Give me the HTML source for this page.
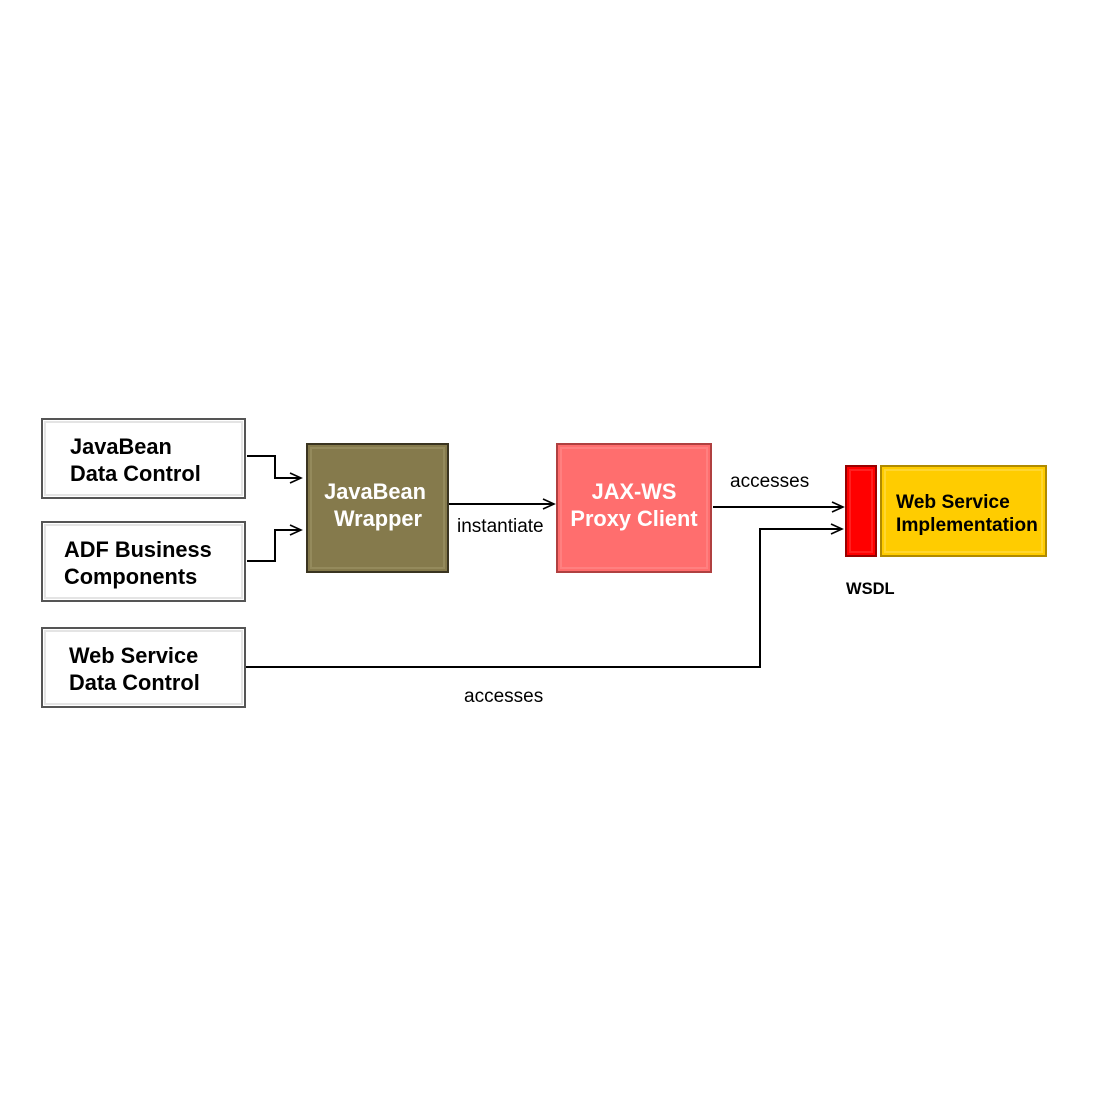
<!DOCTYPE html>
<html><head><meta charset="utf-8"><style>
html,body{margin:0;padding:0;background:#fff;width:1098px;height:1098px;overflow:hidden}
svg{display:block}
text{font-family:"Liberation Sans",Arial,sans-serif}
</style></head><body>
<svg width="1098" height="1098" viewBox="0 0 1098 1098" xmlns="http://www.w3.org/2000/svg">
<defs>
<marker id="a" markerWidth="14" markerHeight="12" refX="12" refY="6" orient="auto" markerUnits="userSpaceOnUse">
<path d="M1,1 L12,6 L1,11" fill="none" stroke="#000" stroke-width="1.6"/>
</marker>
</defs>
<g fill="#fff" stroke="#555" stroke-width="2">
<rect x="42" y="419" width="203" height="79"/>
<rect x="42" y="522" width="203" height="79"/>
<rect x="42" y="628" width="203" height="79"/>
</g>
<g fill="none" stroke="#e4e4e4" stroke-width="2">
<rect x="45" y="422" width="197" height="73"/>
<rect x="45" y="525" width="197" height="73"/>
<rect x="45" y="631" width="197" height="73"/>
</g>
<rect x="307" y="444" width="141" height="128" fill="#857A4C" stroke="#3a3420" stroke-width="2"/>
<rect x="311" y="448" width="133" height="120" fill="none" stroke="#948a5c" stroke-width="2"/>
<rect x="557" y="444" width="154" height="128" fill="#FF6E6E" stroke="#b04040" stroke-width="2"/>
<rect x="561" y="448" width="146" height="120" fill="none" stroke="#ff8080" stroke-width="2"/>
<rect x="846" y="466" width="30" height="90" fill="#F00" stroke="#900" stroke-width="2"/>
<rect x="850" y="470" width="22" height="82" fill="none" stroke="#ff2020" stroke-width="2"/>
<rect x="881" y="466" width="165" height="90" fill="#FFCC00" stroke="#b08a00" stroke-width="2"/>
<rect x="885" y="470" width="157" height="82" fill="none" stroke="#ffd630" stroke-width="2"/>
<g fill="none" stroke="#000" stroke-width="2">
<polyline points="247,456 275,456 275,478 301,478" marker-end="url(#a)"/>
<polyline points="247,561 275,561 275,530 301,530" marker-end="url(#a)"/>
<polyline points="449,504 554,504" marker-end="url(#a)"/>
<polyline points="713,507 843,507" marker-end="url(#a)"/>
<polyline points="246,667 760,667 760,529 842,529" marker-end="url(#a)"/>
</g>
<g font-weight="bold" font-size="21.8" fill="#000">
<text x="70" y="454">JavaBean</text>
<text x="70" y="481">Data Control</text>
<text x="64" y="557">ADF Business</text>
<text x="64" y="584">Components</text>
<text x="69" y="663">Web Service</text>
<text x="69" y="690">Data Control</text>
</g>
<g font-weight="bold" font-size="21.8" fill="#fff" text-anchor="middle">
<text x="375" y="499">JavaBean</text>
<text x="378" y="526">Wrapper</text>
<text x="634" y="499">JAX-WS</text>
<text x="634" y="526">Proxy Client</text>
</g>
<g font-weight="bold" font-size="19.2" fill="#000">
<text x="896" y="508">Web Service</text>
<text x="896" y="531">Implementation</text>
<text x="846" y="594" font-size="16.5">WSDL</text>
</g>
<g font-size="19" fill="#000">
<text x="457" y="532">instantiate</text>
<text x="730" y="487">accesses</text>
<text x="464" y="702">accesses</text>
</g>
</svg>
</body></html>
